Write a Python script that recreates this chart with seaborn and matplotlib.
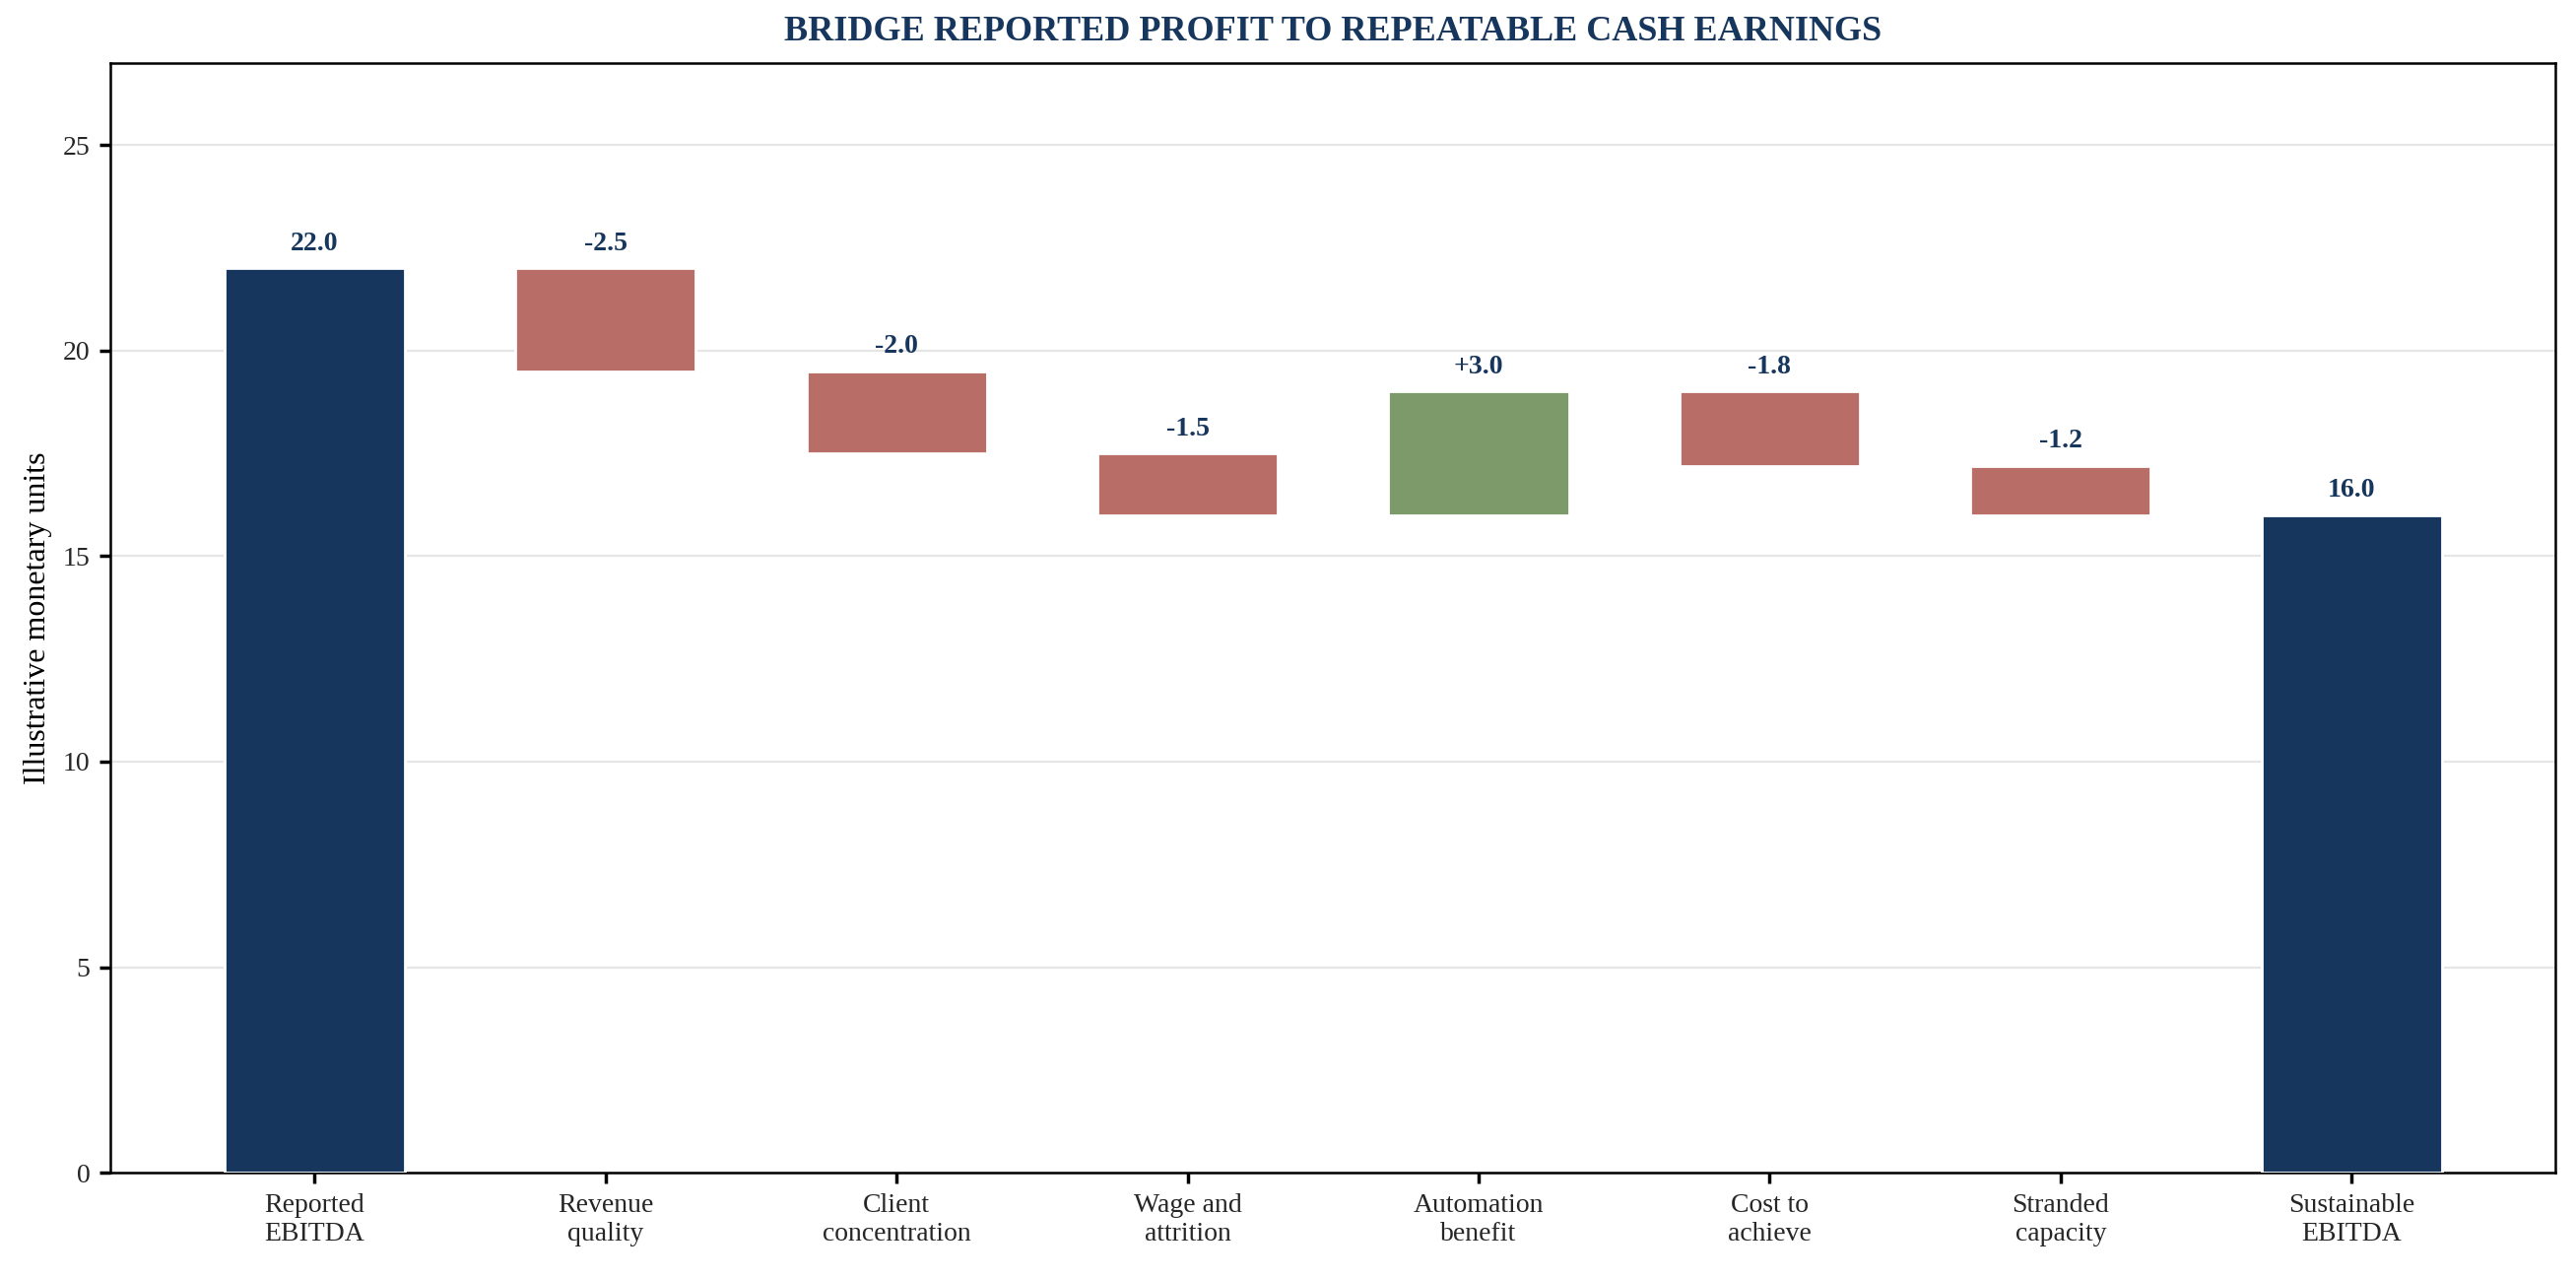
import matplotlib
matplotlib.use("Agg")
import matplotlib.pyplot as plt
import seaborn as sns
import numpy as np

categories = ["Reported\nEBITDA", "Revenue\nquality", "Client\nconcentration", "Wage and\nattrition",
              "Automation\nbenefit", "Cost to\nachieve", "Stranded\ncapacity", "Sustainable\nEBITDA"]
changes = [22.0, -2.5, -2.0, -1.5, 3.0, -1.8, -1.2, 16.0]
labels = ["22.0", "-2.5", "-2.0", "-1.5", "+3.0", "-1.8", "-1.2", "16.0"]
kinds = ["total", "delta", "delta", "delta", "delta", "delta", "delta", "total"]

sns.set_theme(style="white")
plt.rcParams['font.family'] = ['Liberation Serif', 'DejaVu Serif']

NAVY, RED, GREEN = "#17365D", "#B86E66", "#7D9A6B"
fig = plt.figure(figsize=(13.075, 6.49), dpi=200)
ax = fig.add_axes([0.043, 0.083, 0.949, 0.868])

bottoms, heights, colors = [], [], []
run = 0.0
for c, k in zip(changes, kinds):
    if k == "total":
        bottoms.append(0); heights.append(c); colors.append(NAVY); run = c
    else:
        lo = min(run, run + c)
        bottoms.append(lo); heights.append(abs(c)); colors.append(GREEN if c > 0 else RED)
        run += c
x = np.arange(len(categories))
ax.bar(x, heights, bottom=bottoms, color=colors, width=0.62, zorder=3)
for xi, b, h, t in zip(x, bottoms, heights, labels):
    ax.text(xi, b + h + 0.3, t, ha="center", va="bottom", fontsize=10, fontweight="bold", color=NAVY)

ax.set_xticks(x)
ax.set_xticklabels(categories, fontsize=10)
ax.set_xlim(-0.7, len(categories) - 0.3)
ax.set_ylim(0, 27)
ax.set_yticks([0, 5, 10, 15, 20, 25])
ax.tick_params(axis="y", labelsize=10, left=True, length=4, color="black")
ax.tick_params(axis="x", bottom=True, length=4, color="black")
ax.yaxis.grid(True, color="#e6e6e6", linewidth=0.8, zorder=0)
ax.set_ylabel("Illustrative monetary units", fontsize=11.5, color="black")
for s in ax.spines.values():
    s.set_color("black"); s.set_linewidth(0.9)
ax.set_title("BRIDGE REPORTED PROFIT TO REPEATABLE CASH EARNINGS", fontsize=13, fontweight="bold", color=NAVY, pad=8)
fig.savefig("out.png", dpi=200)
